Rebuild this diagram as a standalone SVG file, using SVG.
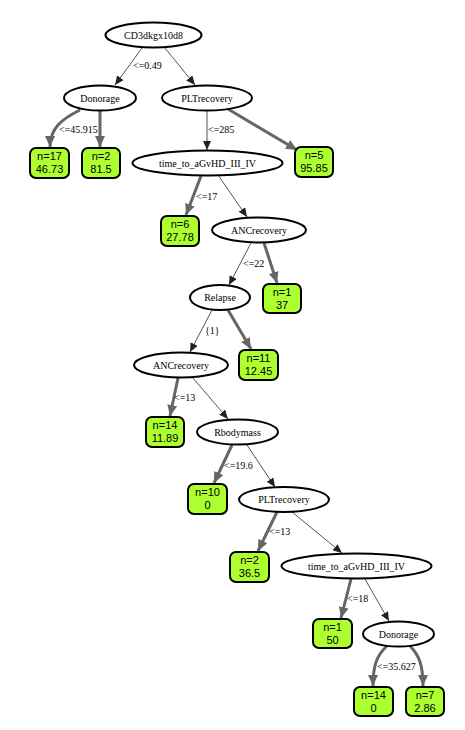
<svg xmlns="http://www.w3.org/2000/svg" width="465" height="730" viewBox="0 0 465 730">
<style>
.bg{fill:#fff}
.n ellipse{fill:#fff;stroke:#000;stroke-width:2}
.n text{font-family:"Liberation Serif",serif;font-size:10px;text-anchor:middle;fill:#000}
.l rect{fill:#adff2f;stroke:#000;stroke-width:2}
.l text{font-family:"Liberation Sans",Arial,sans-serif;font-size:11px;text-anchor:middle;fill:#000}
.e{fill:none}
.t1{stroke:#555;stroke-width:1;marker-end:url(#a1)}
.t3{stroke:#666;stroke-width:3;marker-end:url(#a3)}
.el{font-family:"Liberation Serif",serif;font-size:10px;fill:#000}
</style>
<defs>
<marker id="a1" markerUnits="userSpaceOnUse" markerWidth="10" markerHeight="8" refX="9" refY="4" orient="auto"><path d="M0,0 L9,4 L0,8 Z" fill="#222"/></marker>
<marker id="a3" markerUnits="userSpaceOnUse" markerWidth="12" markerHeight="10" refX="11" refY="5" orient="auto"><path d="M0,0 L11,5 L0,10 Z" fill="#666"/></marker>
</defs>
<rect class="bg" x="0" y="0" width="465" height="730"/>
<g id="edges" class="e">
<line class="t1" x1="142" y1="48" x2="115" y2="85"/>
<line class="t1" x1="165" y1="48" x2="195" y2="85"/>
<path class="t3" d="M80,110 C62,119 50,128 50,147"/>
<line class="t3" x1="100" y1="111" x2="100" y2="147"/>
<line class="t1" x1="207" y1="111" x2="207" y2="150"/>
<line class="t3" x1="228" y1="109" x2="297" y2="150"/>
<line class="t3" x1="201" y1="176" x2="186" y2="215"/>
<line class="t1" x1="218" y1="175" x2="247" y2="217"/>
<line class="t1" x1="251" y1="243" x2="229" y2="285"/>
<line class="t3" x1="264" y1="243" x2="277" y2="283"/>
<line class="t1" x1="212" y1="310" x2="190" y2="352"/>
<line class="t3" x1="228" y1="310" x2="251" y2="349"/>
<line class="t3" x1="178" y1="378" x2="170" y2="416"/>
<line class="t1" x1="193" y1="378" x2="228" y2="419"/>
<line class="t3" x1="232" y1="445" x2="214" y2="483"/>
<line class="t1" x1="247" y1="445" x2="275" y2="487"/>
<line class="t3" x1="277" y1="512" x2="258" y2="551"/>
<line class="t1" x1="292" y1="512" x2="342" y2="553"/>
<line class="t3" x1="351" y1="579" x2="341" y2="618"/>
<line class="t1" x1="365" y1="579" x2="389" y2="621"/>
<path class="t3" d="M387,646 C377,655 373,665 373,686"/>
<path class="t3" d="M410,646 C419,655 423,665 423,686"/>
<text class="el" x="133" y="69">&lt;=0.49</text>
<text class="el" x="59" y="133">&lt;=45.915</text>
<text class="el" x="208" y="133">&lt;=285</text>
<text class="el" x="196" y="200">&lt;=17</text>
<text class="el" x="243" y="267">&lt;=22</text>
<text class="el" x="205" y="334">{1}</text>
<text class="el" x="174" y="401">&lt;=13</text>
<text class="el" x="224" y="469">&lt;=19.6</text>
<text class="el" x="269" y="535">&lt;=13</text>
<text class="el" x="347" y="602">&lt;=18</text>
<text class="el" x="377" y="670">&lt;=35.627</text>
</g>
<g id="n0" class="n"><ellipse cx="153.5" cy="35" rx="48" ry="12.5"/><text x="153.5" y="38.5">CD3dkgx10d8</text></g>
<g id="n1" class="n"><ellipse cx="100" cy="98" rx="36" ry="12.5"/><text x="100" y="101.5">Donorage</text></g>
<g id="n2" class="n"><ellipse cx="207" cy="98" rx="45" ry="12.5"/><text x="207" y="101.5">PLTrecovery</text></g>
<g id="l1" class="l"><rect x="30" y="148" width="39" height="30" rx="6"/><text x="49.5" y="160">n=17</text><text x="49.5" y="173">46.73</text></g>
<g id="l2" class="l"><rect x="82" y="148" width="38" height="30" rx="6"/><text x="101" y="160">n=2</text><text x="101" y="173">81.5</text></g>
<g id="n3" class="n"><ellipse cx="207.5" cy="163" rx="75" ry="12.5"/><text x="207.5" y="166.5">time_to_aGvHD_III_IV</text></g>
<g id="l3" class="l"><rect x="295" y="147" width="38" height="30" rx="6"/><text x="314" y="159">n=5</text><text x="314" y="172">95.85</text></g>
<g id="l4" class="l"><rect x="161" y="216" width="38" height="30" rx="6"/><text x="180" y="228">n=6</text><text x="180" y="241">27.78</text></g>
<g id="n4" class="n"><ellipse cx="259" cy="230" rx="47" ry="12.5"/><text x="259" y="233.5">ANCrecovery</text></g>
<g id="n5" class="n"><ellipse cx="220" cy="297.5" rx="30" ry="12.5"/><text x="220" y="301">Relapse</text></g>
<g id="l5" class="l"><rect x="263" y="284" width="38" height="29" rx="6"/><text x="282" y="295.5">n=1</text><text x="282" y="308.5">37</text></g>
<g id="n6" class="n"><ellipse cx="181" cy="365" rx="47" ry="12.5"/><text x="181" y="368.5">ANCrecovery</text></g>
<g id="l6" class="l"><rect x="239" y="350" width="39" height="30" rx="6"/><text x="258.5" y="362">n=11</text><text x="258.5" y="375">12.45</text></g>
<g id="l7" class="l"><rect x="146" y="417" width="38" height="30" rx="6"/><text x="165" y="429">n=14</text><text x="165" y="442">11.89</text></g>
<g id="n7" class="n"><ellipse cx="237.5" cy="432" rx="40.5" ry="12.5"/><text x="237.5" y="435.5">Rbodymass</text></g>
<g id="l8" class="l"><rect x="188" y="484" width="39" height="30" rx="6"/><text x="207.5" y="496">n=10</text><text x="207.5" y="509">0</text></g>
<g id="n8" class="n"><ellipse cx="284" cy="499.5" rx="45" ry="12.5"/><text x="284" y="503">PLTrecovery</text></g>
<g id="l9" class="l"><rect x="230" y="552" width="39" height="30" rx="6"/><text x="249.5" y="564">n=2</text><text x="249.5" y="577">36.5</text></g>
<g id="n9" class="n"><ellipse cx="356.5" cy="566" rx="75" ry="12.5"/><text x="356.5" y="569.5">time_to_aGvHD_III_IV</text></g>
<g id="l10" class="l"><rect x="313" y="619" width="39" height="29" rx="6"/><text x="332.5" y="630.5">n=1</text><text x="332.5" y="643.5">50</text></g>
<g id="n10" class="n"><ellipse cx="398.5" cy="634" rx="35.5" ry="12.5"/><text x="398.5" y="637.5">Donorage</text></g>
<g id="l11" class="l"><rect x="354" y="687" width="39" height="29" rx="6"/><text x="373.5" y="698.5">n=14</text><text x="373.5" y="711.5">0</text></g>
<g id="l12" class="l"><rect x="406" y="687" width="38" height="29" rx="6"/><text x="425" y="698.5">n=7</text><text x="425" y="711.5">2.86</text></g>
</svg>
